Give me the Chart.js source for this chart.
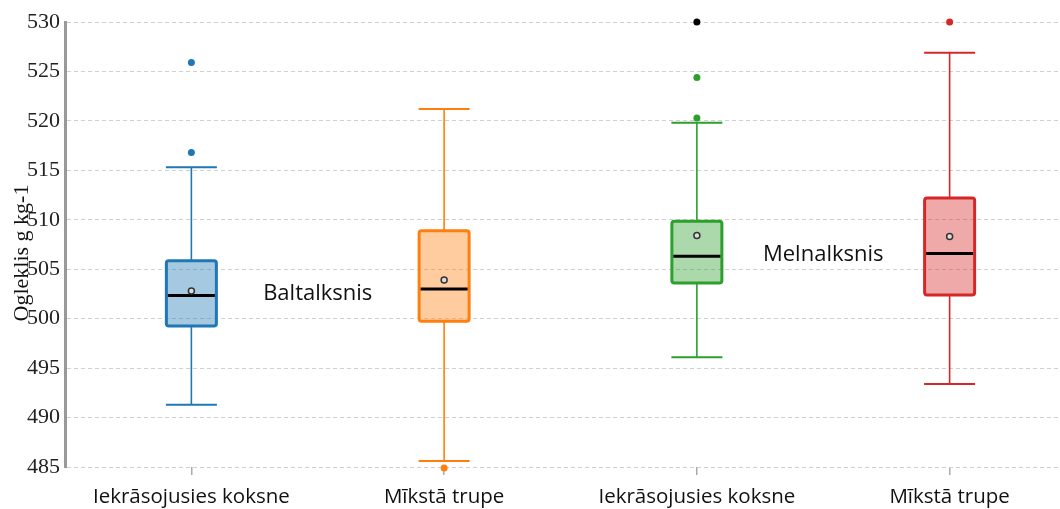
<!DOCTYPE html>
<html>
<head>
<meta charset="utf-8">
<script src="https://cdn.jsdelivr.net/npm/chart.js@4.4.1/dist/chart.umd.min.js"></script>
<style>
  html, body { margin: 0; padding: 0; background: #fff; overflow: hidden; }
  #wrap { width: 1076px; height: 509px; position: relative; }
</style>
</head>
<body>
<div id="wrap"><canvas id="c"></canvas></div>
<script>
// Carbon content per wood condition, two alder species
const categories = ['Iekrāsojusies koksne', 'Mīkstā trupe', 'Iekrāsojusies koksne', 'Mīkstā trupe'];
const whiskerLow  = [491.3, 485.6, 496.1, 493.4];
const q1          = [499.25, 499.75, 503.6, 502.4];
const median      = [502.35, 503.0, 506.3, 506.6];
const mean        = [502.8, 503.9, 508.4, 508.3];
const q3          = [505.85, 508.9, 509.85, 512.2];
const whiskerHigh = [515.3, 521.2, 519.8, 526.9];
const outliers    = [[525.9, 516.8], [484.9], [530.5, 524.4, 520.3], [530]];
const groupNames  = ['Baltalksnis', 'Melnalksnis'];
const groupLabelY = [502.5, 506.5];
const yTicks      = [485, 490, 495, 500, 505, 510, 515, 520, 525, 530];
const yTitle      = 'Ogleklis g kg-1';

const lineColors = ['#1f77b4', '#ff7f0e', '#2ca02c', '#d62728'];
const fillColors = ['rgba(31,119,180,0.4)', 'rgba(255,127,14,0.4)', 'rgba(44,160,44,0.4)', 'rgba(214,39,40,0.4)'];

const boxExtras = {
  id: 'boxExtras',
  beforeDatasetsDraw(chart) {
    const { ctx, scales: { x, y } } = chart;
    const bars = chart.getDatasetMeta(0).data;
    ctx.save();
    categories.forEach((_, i) => {
      const cx = x.getPixelForValue(i);
      const half = bars[i].width / 2 + 0.5;
      ctx.strokeStyle = lineColors[i];
      ctx.lineWidth = 1.6;
      ctx.beginPath();
      ctx.moveTo(cx, y.getPixelForValue(q3[i]));
      ctx.lineTo(cx, y.getPixelForValue(whiskerHigh[i]));
      ctx.moveTo(cx, y.getPixelForValue(q1[i]));
      ctx.lineTo(cx, y.getPixelForValue(whiskerLow[i]));
      ctx.stroke();
      ctx.lineWidth = 2;
      ctx.beginPath();
      [whiskerHigh[i], whiskerLow[i]].forEach(v => {
        const py = y.getPixelForValue(v);
        ctx.moveTo(cx - half, py);
        ctx.lineTo(cx + half, py);
      });
      ctx.stroke();
    });
    ctx.restore();
  },
  afterDatasetsDraw(chart) {
    const { ctx, scales: { x, y } } = chart;
    const bars = chart.getDatasetMeta(0).data;
    ctx.save();
    categories.forEach((_, i) => {
      const cx = x.getPixelForValue(i);
      const half = bars[i].width / 2;
      // box outline, stroked on the quartile values
      const top = y.getPixelForValue(q3[i]);
      const bot = y.getPixelForValue(q1[i]);
      ctx.strokeStyle = lineColors[i];
      ctx.lineWidth = 3;
      ctx.beginPath();
      ctx.roundRect(cx - half, top, half * 2, bot - top, 2.5);
      ctx.stroke();
      // median
      ctx.strokeStyle = '#000';
      ctx.lineWidth = 3;
      ctx.beginPath();
      const my = y.getPixelForValue(median[i]);
      ctx.moveTo(cx - half + 1.5, my);
      ctx.lineTo(cx + half - 1.5, my);
      ctx.stroke();
      // mean
      ctx.beginPath();
      ctx.arc(cx, y.getPixelForValue(mean[i]), 3, 0, Math.PI * 2);
      ctx.fillStyle = '#ddd';
      ctx.fill();
      ctx.lineWidth = 1.5;
      ctx.strokeStyle = '#333';
      ctx.stroke();
      // outliers; values past the top of the axis sit on its edge in black
      outliers[i].forEach(v => {
        const over = v > y.max;
        ctx.beginPath();
        ctx.arc(cx, y.getPixelForValue(over ? y.max : v), 3.5, 0, Math.PI * 2);
        ctx.fillStyle = over ? '#000' : lineColors[i];
        ctx.fill();
      });
    });
    // species names between their two boxes
    ctx.fillStyle = '#111';
    ctx.font = '22px "Open Sans", sans-serif';
    ctx.textAlign = 'center';
    ctx.textBaseline = 'middle';
    groupNames.forEach((name, g) => {
      const gx = (x.getPixelForValue(2 * g) + x.getPixelForValue(2 * g + 1)) / 2;
      ctx.fillText(name, gx, y.getPixelForValue(groupLabelY[g]));
    });
    ctx.restore();
  },
  afterDraw(chart) {
    // vertical axis title
    const { ctx } = chart;
    ctx.save();
    ctx.translate(22, 253);
    ctx.rotate(-Math.PI / 2);
    ctx.fillStyle = '#111';
    ctx.font = '22px "Liberation Serif", serif';
    ctx.textAlign = 'center';
    ctx.textBaseline = 'middle';
    ctx.fillText(yTitle, 0, 0);
    ctx.restore();
  }
};

new Chart(document.getElementById('c'), {
  type: 'bar',
  data: {
    labels: categories,
    datasets: [{
      data: categories.map((_, i) => [q1[i], q3[i]]),
      backgroundColor: fillColors,
      borderWidth: 0,
      barThickness: 50
    }]
  },
  options: {
    responsive: true,
    maintainAspectRatio: false,
    animation: false,
    layout: { padding: { top: 22, right: 0, bottom: 0, left: 0 } },
    plugins: { legend: { display: false }, tooltip: { enabled: false } },
    scales: {
      x: {
        offset: true,
        grid: { offset: false, drawOnChartArea: false, tickLength: 8, color: '#aaa', lineWidth: 1.5 },
        border: { display: false },
        ticks: { color: '#111', padding: 10, font: { family: '"Open Sans", sans-serif', size: 20.5 } },
        afterFit(s) { s.height = 42; }
      },
      y: {
        min: 485,
        max: 530,
        afterBuildTicks(s) { s.ticks = yTicks.map(v => ({ value: v })); },
        grid: { color: '#d0d0d0', lineWidth: 1, drawTicks: false },
        border: { color: '#999', width: 3, dash: [4, 3] },
        ticks: { color: '#222', padding: 5, font: { family: '"Liberation Serif", serif', size: 22 } },
        afterFit(s) { s.width = 65; }
      }
    }
  },
  plugins: [boxExtras]
});
</script>
</body>
</html>
